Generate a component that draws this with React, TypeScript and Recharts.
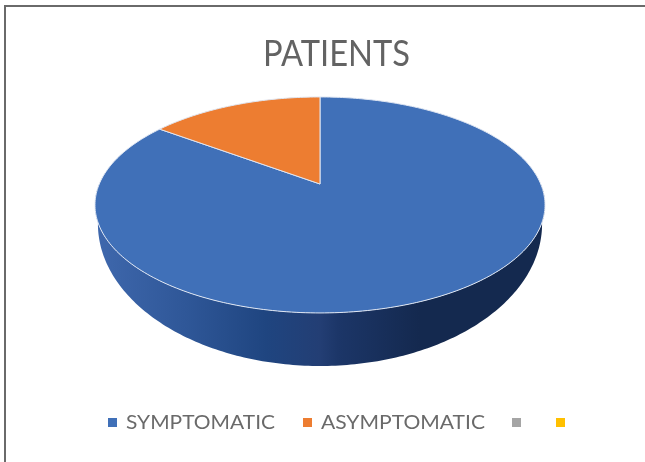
import { PieChart, Pie, Legend } from "recharts";

const CATEGORIES = ["SYMPTOMATIC", "ASYMPTOMATIC", " ", "  "];
const VALUES = [85, 15, 0, 0];
const COLORS = ["#4070b8", "#ed7d31", "#a5a5a5", "#ffc000"];

const data = CATEGORIES.map((name, i) => ({ name, value: VALUES[i], fill: COLORS[i] }));

const W = 645;
const H = 462;
const FONT = "Lato, 'Open Sans', sans-serif";

// perspective of the tilted disc, fitted to the picture
const TILT = 0.194;
const X_SCALE = 0.981;
const Y_SCALE = 0.48;
const CENTER_LIFT = 21;
// lower rim of the wall, only its front half shows
const WALL_X = 0.987;
const WALL_Y = 0.631;
const WALL_DROP = 19;

function topRim(p: any, deg: number) {
  const a = (deg * Math.PI) / 180;
  const d = 1 + TILT * Math.sin(a);
  return [
    p.cx + (X_SCALE * p.outerRadius * Math.cos(a)) / d,
    p.cy - (Y_SCALE * p.outerRadius * Math.sin(a) + CENTER_LIFT) / d,
  ];
}

function lowRim(p: any, deg: number) {
  const a = (deg * Math.PI) / 180;
  return [
    p.cx + WALL_X * p.outerRadius * Math.cos(a),
    p.cy + WALL_DROP - WALL_Y * p.outerRadius * Math.sin(a),
  ];
}

function sweep(from: number, to: number, rim: (deg: number) => number[]) {
  const out: number[][] = [];
  const n = Math.max(2, Math.ceil(Math.abs(to - from)));
  for (let i = 0; i <= n; i++) out.push(rim(from + ((to - from) * i) / n));
  return out;
}

const toPath = (pts: number[][]) =>
  pts.map((q, i) => `${i ? "L" : "M"}${q[0].toFixed(2)} ${q[1].toFixed(2)}`).join(" ") + " Z";

function TopSlice(p: any) {
  if (p.startAngle === p.endAngle) return <g />;
  const pts = [[p.cx, p.cy - CENTER_LIFT], ...sweep(p.startAngle, p.endAngle, (d) => topRim(p, d))];
  return <path d={toPath(pts)} fill={p.fill} stroke="#dfe6f2" strokeWidth={1} strokeLinejoin="round" />;
}

function WallSlice(p: any) {
  const from = Math.min(p.startAngle, 0);
  const to = Math.max(p.endAngle, -180);
  if (from <= to) return <g />;
  const pts = [
    ...sweep(from, to, (d) => topRim(p, d)),
    ...sweep(to, from, (d) => lowRim(p, d)),
  ];
  return <path d={toPath(pts)} fill="url(#wall)" />;
}

const LEGEND_X = [108, 303, 512, 556];
const LEGEND_TEXT_W = [149, 164];

function PieLegend({ payload }: any) {
  const items = (payload || []).filter((e: any) => e.type !== "none").slice(0, CATEGORIES.length);
  return (
    <svg width={W} height={H} style={{ position: "absolute", left: 0, top: 0 }}>
      {items.map((e: any, i: number) => (
        <g key={i}>
          <rect x={LEGEND_X[i]} y={418} width={9} height={9} fill={e.color} />
          {e.value.trim() && (
            <text
              x={LEGEND_X[i] + 18}
              y={429}
              fontFamily={FONT}
              fontSize={20}
              fill="#6a6a6a"
              textLength={LEGEND_TEXT_W[i]}
              lengthAdjust="spacingAndGlyphs"
            >
              {e.value}
            </text>
          )}
        </g>
      ))}
    </svg>
  );
}

export default function App() {
  return (
    <div style={{ position: "absolute", left: 0, top: 0, width: W, height: H, background: "#fff", overflow: "hidden" }}>
      <div style={{ position: "absolute", left: 4, top: 5, right: 0, height: 2, background: "#6a6a6a" }} />
      <div style={{ position: "absolute", left: 4, top: 5, bottom: 0, width: 2, background: "#6a6a6a" }} />
      <PieChart
        width={W}
        height={H}
        margin={{ top: 0, right: 0, bottom: 0, left: 0 }}
        style={{ position: "absolute", left: 0, top: 0, filter: "blur(0.6px)" }}
      >
        <defs>
          <linearGradient id="wall" gradientUnits="userSpaceOnUse" x1={95} y1={0} x2={545} y2={0}>
            <stop offset="0" stopColor="#3f68ad" />
            <stop offset="0.2" stopColor="#2f5798" />
            <stop offset="0.38" stopColor="#1f4580" />
            <stop offset="0.5" stopColor="#233e74" />
            <stop offset="0.54" stopColor="#1c3668" />
            <stop offset="0.72" stopColor="#14294f" />
            <stop offset="1" stopColor="#14294f" />
          </linearGradient>
        </defs>
        <text
          x={263}
          y={66}
          fontFamily={FONT}
          fontSize={36}
          fill="#636363"
          textLength={147}
          lengthAdjust="spacingAndGlyphs"
        >
          PATIENTS
        </text>
        <Pie
          data={data}
          dataKey="value"
          nameKey="name"
          cx={320}
          cy={205}
          outerRadius={225}
          startAngle={90}
          endAngle={-270}
          legendType="none"
          shape={WallSlice}
          isAnimationActive={false}
        />
        <Pie
          data={data}
          dataKey="value"
          nameKey="name"
          cx={320}
          cy={205}
          outerRadius={225}
          startAngle={90}
          endAngle={-270}
          legendType="square"
          shape={TopSlice}
          isAnimationActive={false}
        />
        <Legend
          content={PieLegend}
          itemSorter={null}
          wrapperStyle={{ left: 0, top: 0, width: W, height: H, bottom: "auto" }}
        />
      </PieChart>
    </div>
  );
}
